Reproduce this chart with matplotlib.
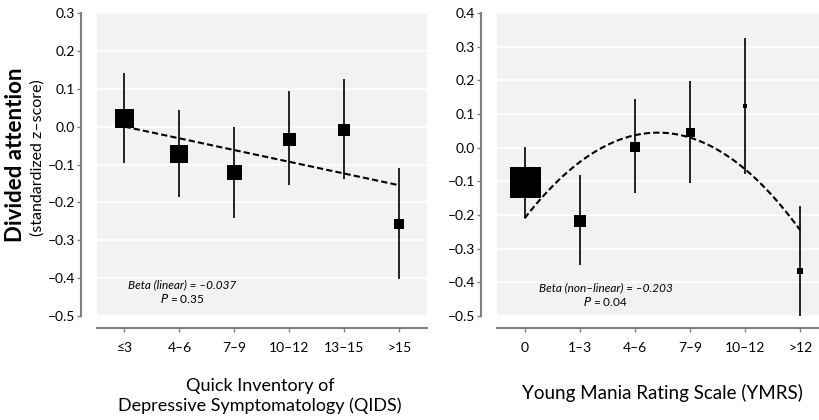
import matplotlib
matplotlib.use("Agg")
import matplotlib.pyplot as plt
import numpy as np

plt.rcParams['font.family'] = ['Lato', 'DejaVu Sans']

# QIDS panel
qids_labels = ['≤3', '4–6', '7–9', '10–12', '13–15', '>15']
qids_mean = [0.024, -0.071, -0.119, -0.032, -0.008, -0.256]
qids_low = [-0.095, -0.185, -0.240, -0.155, -0.137, -0.403]
qids_high = [0.142, 0.045, 0.000, 0.095, 0.126, -0.110]
qids_msize = [19, 18, 15, 13, 12, 10]   # px, roughly group size
qids_fit = [0.0, -0.155]                # linear fit at first / last category

# YMRS panel
ymrs_labels = ['0', '1–3', '4–6', '7–9', '10–12', '>12']
ymrs_mean = [-0.103, -0.217, 0.003, 0.047, 0.124, -0.367]
ymrs_low = [-0.210, -0.350, -0.134, -0.104, -0.079, -0.520]
ymrs_high = [0.002, -0.081, 0.144, 0.197, 0.325, -0.173]
ymrs_msize = [31, 12, 10, 9, 5, 6]
ymrs_fit = [-0.0435, 0.2105, -0.21]     # quadratic coefficients

PX = 72 / 100.0
grey = '#808080'

fig = plt.figure(figsize=(8.2, 4.2), dpi=100)
ax1 = fig.add_axes([97 / 820, 1 - 316 / 420, 330 / 820, 303 / 420])
ax2 = fig.add_axes([497 / 820, 1 - 316 / 420, 323 / 820, 303 / 420])


def fmt(t):
    t = round(t, 1)
    if abs(t) < 1e-9:
        return '0.0'
    return '%.1f' % t if t > 0 else '–%.1f' % -t


def style(ax, labels, ylim, yticks):
    ax.set_facecolor('#f2f2f2')
    ax.set_ylim(*ylim)
    ax.set_yticks(yticks)
    ax.set_yticklabels([fmt(t) for t in yticks], fontsize=7.5)
    ax.set_xticks(range(len(labels)))
    ax.set_xticklabels(labels, fontsize=7.5)
    ax.grid(axis='y', color='white', linewidth=1.3)
    ax.set_axisbelow(True)
    for s in ['top', 'right']:
        ax.spines[s].set_visible(False)
    ax.spines['left'].set_position(('outward', 16 * PX))
    ax.spines['left'].set_bounds(ylim[0], ylim[1])
    ax.spines['bottom'].set_position(('outward', 12 * PX))
    for s in ['left', 'bottom']:
        ax.spines[s].set_color(grey)
        ax.spines[s].set_linewidth(1.5)
    ax.tick_params(axis='y', length=3, width=1, color=grey, pad=1.5)
    ax.tick_params(axis='x', length=3, width=1, color=grey, pad=7)


def draw(ax, mean, low, high, msize):
    x = np.arange(len(mean))
    ax.vlines(x, low, high, color='black', linewidth=1.2, zorder=3)
    for xi, m, s in zip(x, mean, msize):
        ax.plot(xi, m, marker='s', markersize=s * PX, color='black',
                markeredgewidth=0, zorder=4)


draw(ax1, qids_mean, qids_low, qids_high, qids_msize)
ax1.plot([0, 5], qids_fit, color='black', linestyle=(0, (3, 1.5)), linewidth=1.5, zorder=5)
style(ax1, qids_labels, (-0.5, 0.3), np.arange(-0.5, 0.31, 0.1))
ax1.set_xlim(-0.5, 5.5)
ax1.text(1.05, -0.417, 'Beta (linear) = –0.037', fontsize=8.5, style='italic', ha='center', va='center')
ax1.text(1.05, -0.455, '$P$ = 0.35', fontsize=8.5, ha='center', va='center')

draw(ax2, ymrs_mean, ymrs_low, ymrs_high, ymrs_msize)
xs = np.linspace(0, 5, 200)
ax2.plot(xs, np.polyval(ymrs_fit, xs), color='black', linestyle=(0, (3, 1.5)), linewidth=1.5, zorder=5)
style(ax2, ymrs_labels, (-0.5, 0.4), np.arange(-0.5, 0.41, 0.1))
ax2.set_xlim(-0.5, 5.36)
ax2.text(1.47, -0.415, 'Beta (non–linear) = –0.203', fontsize=8.5, style='italic', ha='center', va='center')
ax2.text(1.47, -0.458, '$P$ = 0.04', fontsize=8.5, ha='center', va='center')

fig.text(260 / 820, 1 - 396 / 420, 'Quick Inventory of\nDepressive Symptomatology (QIDS)',
         fontsize=13, ha='center', va='center', linespacing=1.25)
fig.text(662 / 820, 1 - 393 / 420, 'Young Mania Rating Scale (YMRS)',
         fontsize=13.5, ha='center', va='center')
fig.text(16 / 820, 1 - 155 / 420, 'Divided attention', fontsize=16, fontweight='bold',
         rotation=90, ha='center', va='center')
fig.text(38 / 820, 1 - 158 / 420, '(standardized z–score)', fontsize=11.5,
         rotation=90, ha='center', va='center')

fig.savefig('out.png', dpi=100)
